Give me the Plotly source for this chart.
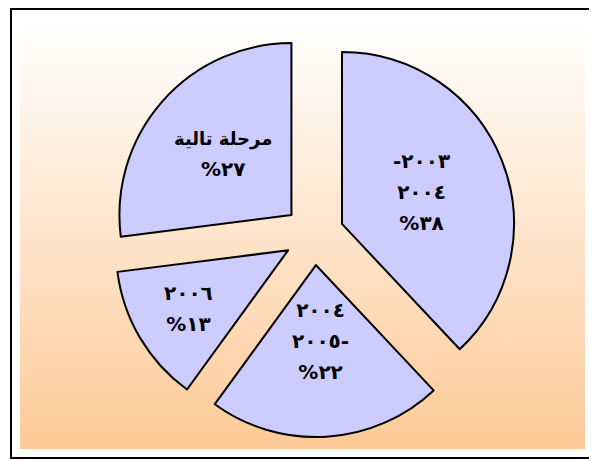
import numpy as np
import plotly.graph_objects as go

# the page body keeps its default 8px margin, so the figure is drawn 8px in
PAGE_OFFSET = 8
W, H = 597 - PAGE_OFFSET, 461 - PAGE_OFFSET

# slice data, clockwise from 12 o'clock
periods = [["-٢٠٠٣", "٢٠٠٤"], ["٢٠٠٤", "٢٠٠٥-"], ["٢٠٠٦"], ["مرحلة تالية"]]
shares = [38, 22, 13, 27]
share_labels = ["%٣٨", "%٢٢", "%١٣", "%٢٧"]

# how far out each label sits inside its slice (fraction of radius)
LABEL_RADIUS = [0.50, 0.44, 0.67, 0.53]


def line(t):
    # digits a little larger than the Arabic words, as in the original
    size = 18 if any("\u0621" <= ch <= "\u064a" for ch in t) else 20
    return f"<span style='font-size:{size}px'><b>{t}</b></span>"


def px(v):
    """window pixel -> figure pixel"""
    return v - PAGE_OFFSET


# pie placement in window pixels (centre of the unexploded pie, radius, explode)
CX, CY, R = px(314), px(235), 172
PULL = 0.175
half = R * (1 + PULL)

fig = go.Figure()

# gradient panel behind the pie
gl, gr, gt, gb = px(20), px(585), px(20), px(449)
fig.add_trace(
    go.Scatter(
        x=[gl, gr, gr, gl, gl],
        y=[gt, gt, gb, gb, gt],
        mode="lines",
        line=dict(width=0),
        fill="toself",
        fillgradient=dict(
            type="vertical",
            colorscale=[[0, "#FFFFFF"], [1, "#FDCA97"]],
            start=gt,
            stop=gb,
        ),
        hoverinfo="skip",
        showlegend=False,
    )
)

fig.add_trace(
    go.Pie(
        values=shares,
        textinfo="none",
        sort=False,
        direction="clockwise",
        rotation=0,
        pull=PULL,
        marker=dict(colors=["#CCCCFF"] * len(shares), line=dict(color="#000000", width=2)),
        domain=dict(
            x=[(CX - half) / W, (CX + half) / W],
            y=[1 - (CY + half) / H, 1 - (CY - half) / H],
        ),
        showlegend=False,
        hoverinfo="skip",
    )
)

# labels sit on each slice's bisector, pushed out with the slice
total = sum(shares)
mids = (np.cumsum(shares) - np.array(shares) / 2) / total * 2 * np.pi
annotations = []
for p, s, a, f in zip(periods, share_labels, mids, LABEL_RADIUS):
    d = (PULL + f) * R
    annotations.append(
        dict(
            x=CX + d * np.sin(a),
            y=CY - d * np.cos(a),
            xref="x",
            yref="y",
            text="<br>".join(line(t) for t in p + [s]),
            showarrow=False,
            xanchor="center",
            yanchor="middle",
            align="center",
            # outer size sets the line pitch; the spans set the glyph size
            font=dict(family="DejaVu Sans", size=24, color="#000000", weight="bold"),
        )
    )

fig.update_layout(
    width=W,
    height=H,
    margin=dict(l=0, r=0, t=0, b=0),
    paper_bgcolor="#FFFFFF",
    plot_bgcolor="rgba(0,0,0,0)",
    xaxis=dict(visible=False, range=[0, W], fixedrange=True),
    yaxis=dict(visible=False, range=[H, 0], fixedrange=True),
    annotations=annotations,
    shapes=[
        dict(
            type="rect",
            xref="x",
            yref="y",
            x0=px(11),
            x1=px(595),
            y0=px(9),
            y1=px(458),
            line=dict(color="#000000", width=2),
        )
    ],
)

fig.write_html("out.html")
